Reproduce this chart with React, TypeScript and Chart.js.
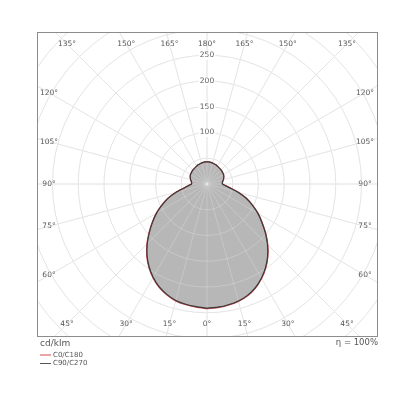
import React, { useEffect, useRef } from 'react';
import { Chart, registerables } from 'chart.js';

Chart.register(...registerables);

// gamma angles (deg from nadir) and luminous intensity in cd/klm
const gammaAngles = [0, 5, 10, 15, 20, 25, 30, 35, 40, 45, 50, 55, 60, 65, 70, 75, 80, 85, 90, 95, 100, 105, 110, 115, 120, 125, 130, 135, 140, 145, 150, 155, 160, 165, 170, 175, 180];
const c0 = [242, 241, 239, 236, 231, 223, 212, 199, 184, 167, 149, 131, 115, 98, 82, 64, 47, 37, 30, 30, 31, 33, 34.5, 36, 37, 37.5, 38, 38.5, 39, 39.5, 40, 41, 41.5, 42, 42.5, 43, 43];
const c180 = [242, 240, 238, 235, 229, 221, 210, 197, 182, 165, 147, 130, 114, 97, 81, 63, 46, 37, 30, 30, 31, 33, 34.5, 36, 37, 37.5, 38, 38.5, 39, 39.5, 40, 41, 41.5, 42, 42.5, 43, 43];
const c90 = [241, 240, 238, 235, 230, 222, 211, 198, 183, 166, 148, 130, 114, 97, 81, 63, 46, 36, 30, 30, 31, 33, 34.5, 36, 37, 37.5, 38, 38.5, 39, 39.5, 40, 41, 41.5, 42, 42.5, 43, 43];
const c270 = [241, 239, 237, 234, 228, 220, 209, 196, 181, 164, 146, 129, 113, 96, 80, 62, 45, 36, 30, 30, 31, 33, 34.5, 36, 37, 37.5, 38, 38.5, 39, 39.5, 40, 41, 41.5, 42, 42.5, 43, 43];

const ringValues = [50, 100, 150, 200, 250, 300, 350, 400, 450, 500];
const ringLabels = [100, 150, 200, 250];
const spokeAngles = [0, 15, 30, 45, 60, 75, 90, 105, 120, 135, 150, 165, 180];
const seriesNames = ['C0/C180', 'C90/C270'];

const FONT = '"DejaVu Sans", sans-serif';

// right half from one plane, left half (mirrored) from the opposite plane
function toPoints(right: number[], left: number[]) {
  const pts: { x: number; y: number }[] = [];
  gammaAngles.forEach((g, i) => {
    const a = (g * Math.PI) / 180;
    pts.push({ x: right[i] * Math.sin(a), y: -right[i] * Math.cos(a) });
  });
  for (let i = gammaAngles.length - 2; i >= 0; i--) {
    const a = (gammaAngles[i] * Math.PI) / 180;
    pts.push({ x: -left[i] * Math.sin(a), y: -left[i] * Math.cos(a) });
  }
  return pts;
}

function strokeGrid(chart: any, color: string) {
  const { ctx, chartArea, scales } = chart;
  const cx = scales.x.getPixelForValue(0);
  const cy = scales.y.getPixelForValue(0);
  const k = scales.x.getPixelForValue(1) - cx;
  ctx.save();
  ctx.beginPath();
  ctx.rect(chartArea.left, chartArea.top, chartArea.width, chartArea.height);
  ctx.clip();
  ctx.strokeStyle = color;
  ctx.lineWidth = 1;
  ringValues.forEach((v) => {
    ctx.beginPath();
    ctx.arc(cx, cy, v * k, 0, Math.PI * 2);
    ctx.stroke();
  });
  for (let a = 0; a < 360; a += 15) {
    const r = (a * Math.PI) / 180;
    ctx.beginPath();
    ctx.moveTo(cx, cy);
    ctx.lineTo(cx + 1000 * Math.sin(r), cy + 1000 * Math.cos(r));
    ctx.stroke();
  }
  ctx.restore();
}

const polarGrid = {
  id: 'polarGrid',
  beforeDraw(chart: any) {
    const { ctx, chartArea, scales } = chart;
    strokeGrid(chart, '#dedede');
    const cx = scales.x.getPixelForValue(0);
    const cy = scales.y.getPixelForValue(0);
    const k = scales.x.getPixelForValue(1) - cx;

    ctx.save();
    ctx.font = `7.5px ${FONT}`;
    ctx.textAlign = 'center';
    ctx.textBaseline = 'middle';
    // intensity labels on the upper axis
    ringLabels.forEach((v) => {
      const y = cy - v * k;
      const w = ctx.measureText(String(v)).width;
      ctx.fillStyle = '#ffffff';
      ctx.fillRect(cx - w / 2 - 1, y - 4.5, w + 2, 9);
      ctx.fillStyle = '#555555';
      ctx.fillText(String(v), cx, y);
    });
    // angle labels along the frame
    const hx = chartArea.width / 2 - 12;
    const hy = chartArea.height / 2 - 12;
    [1, -1].forEach((side) => {
      spokeAngles.forEach((g) => {
        if (side === -1 && (g === 0 || g === 180)) return;
        const r = (g * Math.PI) / 180;
        const dx = side * Math.sin(r);
        const dy = Math.cos(r);
        const t = Math.min(
          Math.abs(dx) > 1e-6 ? hx / Math.abs(dx) : Infinity,
          Math.abs(dy) > 1e-6 ? hy / Math.abs(dy) : Infinity
        );
        ctx.fillStyle = '#555555';
        ctx.fillText(`${g}°`, cx + t * dx, cy + t * dy);
      });
    });
    ctx.restore();
  },
  beforeDatasetsDraw(chart: any) {
    // faint grid showing through the filled area
    strokeGrid(chart, 'rgba(255,255,255,0.22)');
  },
  afterDraw(chart: any) {
    const { ctx, chartArea } = chart;
    ctx.save();
    ctx.strokeStyle = '#8c8c8c';
    ctx.lineWidth = 1;
    ctx.strokeRect(chartArea.left + 0.5, chartArea.top + 0.5, chartArea.width, chartArea.height);

    ctx.fillStyle = '#555555';
    ctx.textBaseline = 'middle';
    ctx.font = `9px ${FONT}`;
    ctx.textAlign = 'left';
    ctx.fillText('cd/klm', chartArea.left + 3, chartArea.bottom + 8);
    ctx.textAlign = 'right';
    ctx.font = `8.5px ${FONT}`;
    ctx.fillText('η = 100%', chartArea.right + 1, chartArea.bottom + 7);

    // legend
    const colors = ['#d9484d', '#555555'];
    ctx.font = `7px ${FONT}`;
    ctx.textAlign = 'left';
    seriesNames.forEach((name, i) => {
      const y = chartArea.bottom + 19 + i * 8.5;
      ctx.strokeStyle = colors[i];
      ctx.beginPath();
      ctx.moveTo(chartArea.left + 3, y);
      ctx.lineTo(chartArea.left + 14, y);
      ctx.stroke();
      ctx.fillStyle = '#555555';
      ctx.fillText(name, chartArea.left + 16, y);
    });
    ctx.restore();
  },
};

export default function App() {
  const chartRef = useRef<HTMLCanvasElement>(null);

  useEffect(() => {
    if (!chartRef.current) return;

    const config: any = {
      type: 'scatter',
      data: {
        datasets: [
          {
            label: seriesNames[1],
            data: toPoints(c90, c270),
            showLine: true,
            borderColor: '#3a3a3a',
            borderWidth: 1.2,
            pointRadius: 0,
            tension: 0.2,
            fill: false,
          },
          {
            label: seriesNames[0],
            data: toPoints(c0, c180),
            showLine: true,
            borderColor: '#d9484d',
            borderWidth: 1.2,
            backgroundColor: '#b7b7b7',
            pointRadius: 0,
            tension: 0.2,
            fill: 'shape',
          },
        ],
      },
      options: {
        responsive: false,
        animation: false,
        layout: { padding: { left: 37, right: 23, top: 32, bottom: 64 } },
        scales: {
          x: { type: 'linear', min: -330, max: 330, display: false },
          y: { type: 'linear', min: -295, max: 295, display: false },
        },
        plugins: {
          legend: { display: false },
          tooltip: { enabled: false },
          filler: { drawTime: 'beforeDatasetsDraw' },
        },
      },
      plugins: [polarGrid],
    };

    const chartInstance = new Chart(chartRef.current, config);
    return () => {
      chartInstance.destroy();
    };
  }, []);

  return (
    <div style={{ position: 'absolute', left: 0, top: 0, width: 400, height: 400, background: '#fff' }}>
      <canvas ref={chartRef} width={400} height={400}></canvas>
    </div>
  );
}
